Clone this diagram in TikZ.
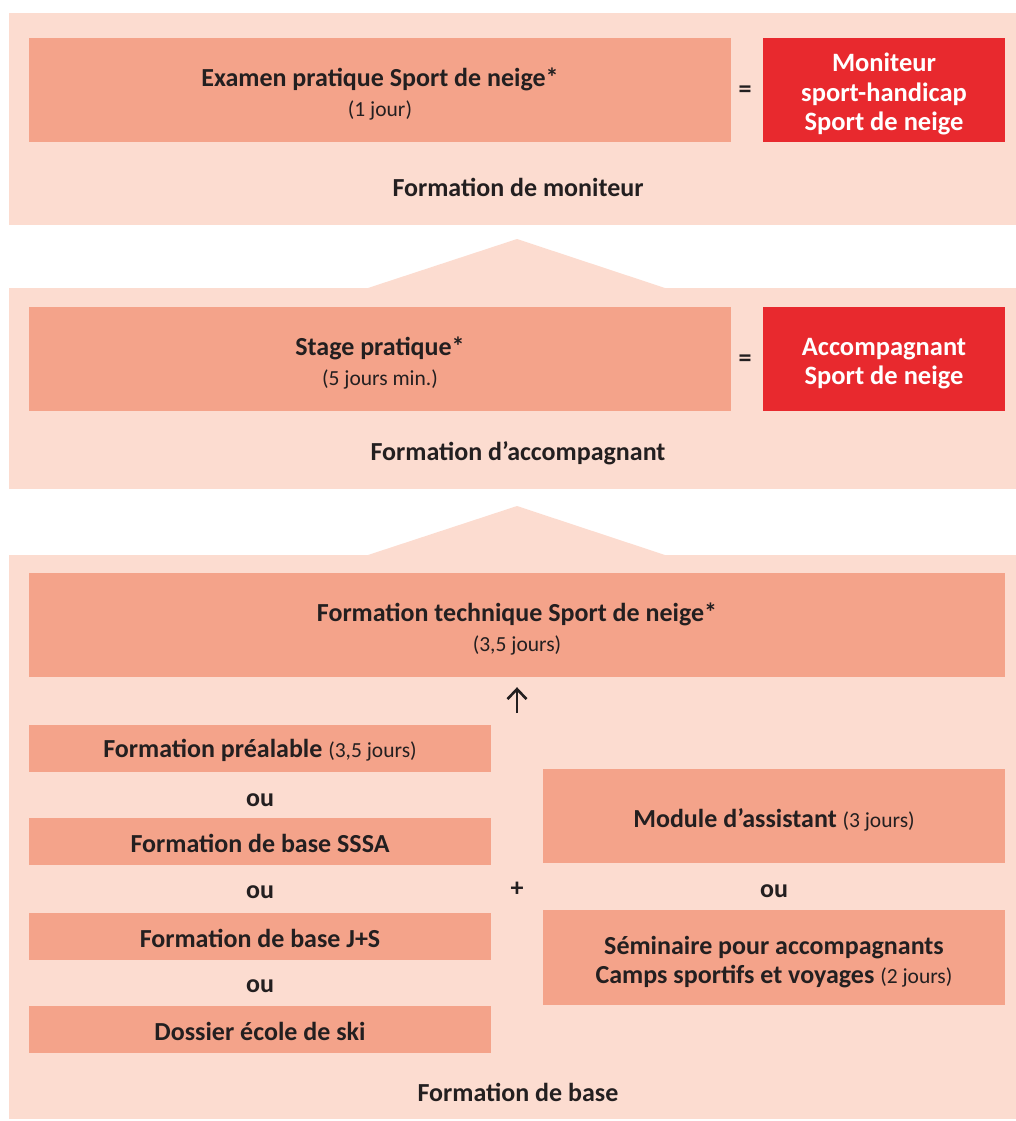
\documentclass[tikz,border=0pt]{standalone}
\usepackage{fontspec}
\setmainfont{Carlito}
\usetikzlibrary{arrows.meta}
\definecolor{panelpink}{HTML}{FCDCD0}
\definecolor{boxsalmon}{HTML}{F4A38A}
\definecolor{certred}{HTML}{E8292E}
\definecolor{inkdark}{HTML}{231F20}
\newcommand{\dur}[1]{{\mdseries\fontsize{21.5}{29.5}\selectfont #1}}
\tikzset{
    modbox/.style={fill=boxsalmon, inner sep=0pt},
    certbox/.style={fill=certred, inner sep=0pt, minimum width=242pt, minimum height=104pt},
    boxtext/.style={inner sep=0pt, align=center, text=inkdark,
        font=\bfseries\fontsize{26}{29.5}\selectfont},
    certtext/.style={inner sep=0pt, align=center, text=white,
        font=\bfseries\fontsize{26.5}{29.5}\selectfont},
    lbl/.style={text=inkdark, inner sep=0pt, font=\bfseries\fontsize{26}{29.5}\selectfont},
    arrowline/.style={draw=inkdark, line width=2.6pt, -{Straight Barb[length=10pt, width=19pt]}}
}
\begin{document}
\begin{tikzpicture}[x=1pt, y=-1pt]
    \useasboundingbox (0,0) rectangle (1016,1121);

    % Panels and the pointers between them
    \fill[panelpink] (9,13) rectangle (1016,225);
    \fill[panelpink] (368,288) -- (517,239) -- (665,288) -- cycle;
    \fill[panelpink] (9,288) rectangle (1016,489);
    \fill[panelpink] (368,555) -- (517,506) -- (665,555) -- cycle;
    \fill[panelpink] (9,555) rectangle (1016,1119);

    % Formation de moniteur
    \node[modbox, minimum width=702pt, minimum height=104pt] (exam) at (380,90) {};
    \node[boxtext] (examtxt) at ([yshift=-4pt]exam.center)
        {Examen pratique Sport de neige*\\\dur{(1 jour)}};
    \node[lbl] (eqmon) at (745,92) {=};
    \node[certbox] (moniteur) at (884,90) {};
    \node[certtext] (monitxt) at ([yshift=-4pt]moniteur.center)
        {Moniteur\\sport-handicap\\Sport de neige};
    \node[lbl] (labmon) at (518,187) {Formation de moniteur};

    % Formation d'accompagnant
    \node[modbox, minimum width=702pt, minimum height=104pt] (stage) at (380,359) {};
    \node[boxtext] (stagetxt) at ([yshift=-4pt]stage.center)
        {Stage pratique*\\\dur{(5 jours min.)}};
    \node[lbl] (eqacc) at (745,361) {=};
    \node[certbox] (accomp) at (884,359) {};
    \node[certtext] (accomptxt) at ([yshift=-4.5pt]accomp.center)
        {Accompagnant\\Sport de neige};
    \node[lbl] (labacc) at (518,453) {Formation d’accompagnant};

    % Formation de base
    \node[modbox, minimum width=976pt, minimum height=104pt] (tech) at (517,625) {};
    \node[boxtext] (techtxt) at ([yshift=-4pt]tech.center)
        {Formation technique Sport de neige*\\\dur{(3,5 jours)}};
    \coordinate (arrtail) at (517,713);
    \draw[arrowline, shorten >=10pt] (arrtail) -- (tech.south);

    \node[modbox, minimum width=462pt, minimum height=47pt] (prealable) at (260,748.5) {};
    \node[boxtext] (prealtxt) at ([yshift=-2pt]prealable.center)
        {Formation préalable \dur{(3,5 jours)}};
    \node[lbl] (ou1) at (260,800) {ou};
    \node[modbox, minimum width=462pt, minimum height=47pt] (sssa) at (260,841.5) {};
    \node[boxtext] (sssatxt) at ([yshift=-2pt]sssa.center) {Formation de base SSSA};
    \node[lbl] (ou2) at (260,892) {ou};
    \node[modbox, minimum width=462pt, minimum height=47pt] (js) at (260,936.5) {};
    \node[boxtext] (jstxt) at ([yshift=-1.5pt]js.center) {Formation de base J+S};
    \node[lbl] (ou3) at (260,986) {ou};
    \node[modbox, minimum width=462pt, minimum height=47pt] (ski) at (260,1029.5) {};
    \node[boxtext] (skitxt) at ([yshift=-1.5pt]ski.center) {Dossier école de ski};

    \node[lbl] (plus) at (517,889) {+};

    \node[modbox, minimum width=462pt, minimum height=94pt] (assist) at (774,816) {};
    \node[boxtext] (assisttxt) at ([yshift=-4pt]assist.center)
        {Module d’assistant \dur{(3 jours)}};
    \node[lbl] (ou4) at (774,891) {ou};
    \node[modbox, minimum width=462pt, minimum height=95pt] (semin) at (774,957.5) {};
    \node[boxtext] (semintxt) at ([yshift=-4.5pt]semin.center)
        {Séminaire pour accompagnants\\Camps sportifs et voyages \dur{(2 jours)}};

    \node[lbl] (labbase) at (518,1092) {Formation de base};
\end{tikzpicture}
\end{document}
